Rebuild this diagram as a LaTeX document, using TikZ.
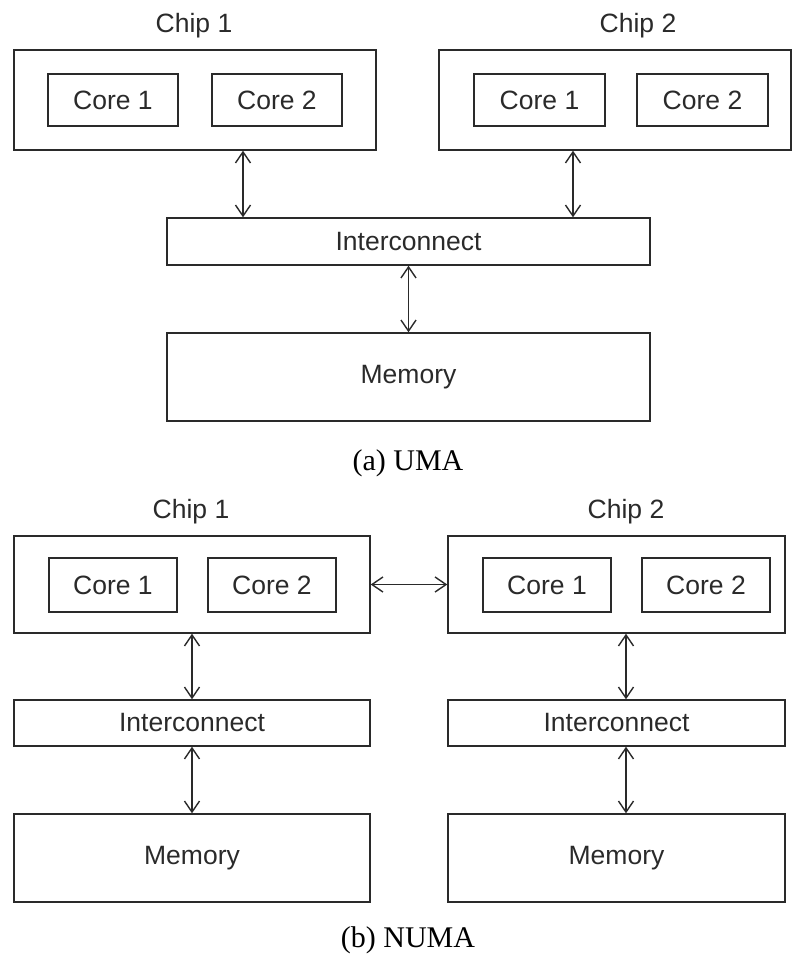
\documentclass[tikz,border=0pt]{standalone}
\usepackage{fontspec}
\setmainfont{Liberation Serif}
\setsansfont{Liberation Sans}
\usetikzlibrary{arrows.meta}
\definecolor{ink}{HTML}{2A2A2A}
\tikzset{
  box/.style={draw=ink, line width=1.4pt, text=ink, inner sep=0pt,
    font=\sffamily\fontsize{26.5}{30}\selectfont},
  link/.style={draw=ink, line width=1.4pt,
    {Straight Barb[length=11pt,width=15pt]}-{Straight Barb[length=11pt,width=15pt]}},
  chiplabel/.style={text=ink, font=\sffamily\fontsize{26.5}{30}\selectfont},
  caption/.style={font=\rmfamily\fontsize{30}{34}\selectfont}
}
\begin{document}
\begin{tikzpicture}[x=1pt,y=-1pt]
			%%%%% START %%%%%
			\useasboundingbox (0,0) rectangle (792,956);
			
			% (a) UMA
			\node[chiplabel] (lbl1a) at (194, 26) {Chip 1};
			\node[chiplabel] (lbl2a) at (638, 26) {Chip 2};
			
			\node[box, minimum width=362pt, minimum height=100pt] (chip1a) at (195, 100) {};
			\node[box, minimum width=130pt, minimum height=52pt] (c11a) at (113, 100) {Core 1};
			\node[box, minimum width=130pt, minimum height=52pt] (c12a) at (277, 100) {Core 2};
			
			\node[box, minimum width=352pt, minimum height=100pt] (chip2a) at (615, 100) {};
			\node[box, minimum width=131pt, minimum height=52pt] (c21a) at (539.5, 100) {Core 1};
			\node[box, minimum width=131pt, minimum height=52pt] (c22a) at (702.5, 100) {Core 2};
			
			\node[box, minimum width=483pt, minimum height=47pt] (icA) at (408.5, 241.5) {Interconnect};
			\node[box, minimum width=483pt, minimum height=88pt] (memA) at (408.5, 377) {Memory};
			
			\draw[link] ([xshift=48pt]chip1a.south) -- ([xshift=48pt]chip1a.south |- icA.north);
			\draw[link] ([xshift=-42pt]chip2a.south) -- ([xshift=-42pt]chip2a.south |- icA.north);
			\draw[link] (icA.south) -- (memA.north);
			
			\node[caption] (capA) at (408, 463) {(a) UMA};
			
			% (b) NUMA
			\node[chiplabel] (lbl1b) at (191, 512) {Chip 1};
			\node[chiplabel] (lbl2b) at (626, 512) {Chip 2};
			
			\node[box, minimum width=356pt, minimum height=97pt] (chip1b) at (192, 584.5) {};
			\node[box, minimum width=128pt, minimum height=54pt] (c11b) at (113, 585) {Core 1};
			\node[box, minimum width=128pt, minimum height=54pt] (c12b) at (272, 585) {Core 2};
			
			\node[box, minimum width=337pt, minimum height=97pt] (chip2b) at (616.5, 584.5) {};
			\node[box, minimum width=128pt, minimum height=54pt] (c21b) at (547, 585) {Core 1};
			\node[box, minimum width=128pt, minimum height=54pt] (c22b) at (706, 585) {Core 2};
			
			\node[box, minimum width=356pt, minimum height=46pt] (ic1b) at (192, 723) {Interconnect};
			\node[box, minimum width=337pt, minimum height=46pt] (ic2b) at (616.5, 723) {Interconnect};
			\node[box, minimum width=356pt, minimum height=88pt] (mem1b) at (192, 858) {Memory};
			\node[box, minimum width=337pt, minimum height=88pt] (mem2b) at (616.5, 858) {Memory};
			
			\draw[link] (chip1b.east) -- (chip2b.west);
			\draw[link] (chip1b.south) -- (ic1b.north);
			\draw[link] ([xshift=9.5pt]chip2b.south) -- ([xshift=9.5pt]ic2b.north);
			\draw[link] (ic1b.south) -- (mem1b.north);
			\draw[link] ([xshift=9.5pt]ic2b.south) -- ([xshift=9.5pt]mem2b.north);
			
			\node[caption] (capB) at (408, 940) {(b) NUMA};
			%%%%% END %%%%%
\end{tikzpicture}
\end{document}
